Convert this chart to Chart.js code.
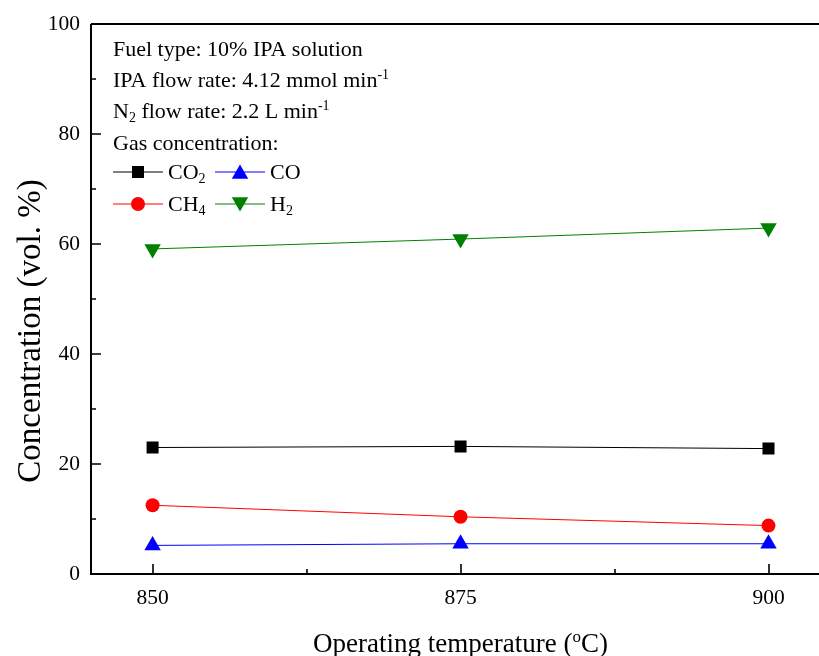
<!DOCTYPE html>
<html>
<head>
<meta charset="utf-8">
<script src="https://cdn.jsdelivr.net/npm/chart.js@4"></script>
<style>
html,body{margin:0;padding:0;background:#fff;overflow:hidden;}
#wrap{width:819px;height:656px;position:relative;overflow:hidden;}
</style>
</head>
<body>
<div id="wrap"><canvas id="c" width="829" height="656"></canvas></div>
<script>
// ---- data ----
const temperatures = [850, 875, 900];
const co2 = [23.0, 23.2, 22.8];
const co  = [5.2, 5.5, 5.5];
const ch4 = [12.5, 10.4, 8.8];
const h2  = [59.1, 60.9, 62.9];
const xTicks = [850, 875, 900];
const xMinorTicks = [862.5, 887.5];
const yTicks = [0, 20, 40, 60, 80, 100];
const yMinorTicks = [10, 30, 50, 70, 90];
const seriesNames = ['CO2', 'CO', 'CH4', 'H2'];

const FONT = '"Liberation Serif", "Times New Roman", serif';

function pts(vals){ return temperatures.map((t,i)=>({x:t, y:vals[i]})); }

const datasets = [
  {label:seriesNames[0], data:pts(co2), borderColor:'#000000', backgroundColor:'#000000', pointStyle:'rect', pointRadius:8.5, pointRotation:0},
  {label:seriesNames[1], data:pts(co),  borderColor:'#0000ff', backgroundColor:'#0000ff', pointStyle:'triangle', pointRadius:9.5, pointRotation:0},
  {label:seriesNames[2], data:pts(ch4), borderColor:'#ff0000', backgroundColor:'#ff0000', pointStyle:'circle', pointRadius:7, pointRotation:0},
  {label:seriesNames[3], data:pts(h2),  borderColor:'#008000', backgroundColor:'#008000', pointStyle:'triangle', pointRadius:9.5, pointRotation:180}
].map(d=>Object.assign(d,{borderWidth:1, pointBorderWidth:0, showLine:true, tension:0, fill:false}));

function drawRich(ctx, x, y, parts, size, align){
  const small = Math.round(size*0.64);
  let total = 0;
  parts.forEach(([t,m])=>{ ctx.font = (m?small:size)+'px '+FONT; total += ctx.measureText(t).width; });
  let cx = align==='center' ? x - total/2 : x;
  parts.forEach(([t,m])=>{
    ctx.font = (m?small:size)+'px '+FONT;
    const dy = m===1 ? -size*0.36 : (m===-1 ? size*0.2 : 0);
    ctx.fillText(t, cx, y+dy);
    cx += ctx.measureText(t).width;
  });
}

function marker(ctx, ds, x, y){
  ctx.save();
  ctx.fillStyle = ds.backgroundColor;
  ctx.strokeStyle = ds.borderColor;
  ctx.lineWidth = 0;
  const opts = {pointStyle:ds.pointStyle, radius:ds.pointRadius, rotation:ds.pointRotation, borderWidth:0};
  if (window.Chart && Chart.helpers && Chart.helpers.drawPoint) {
    Chart.helpers.drawPoint(ctx, opts, x, y);
  }
  ctx.restore();
}

const framePlugin = {
  id:'frame',
  afterDraw(chart){
    const ctx = chart.ctx;
    const xs = chart.scales.x, ys = chart.scales.y;
    const a = chart.chartArea;
    ctx.save();
    ctx.strokeStyle = '#000';
    ctx.lineWidth = 2;
    ctx.beginPath();
    ctx.moveTo(a.left, a.top); ctx.lineTo(a.left, a.bottom); ctx.lineTo(a.right, a.bottom);
    ctx.moveTo(a.left, a.top); ctx.lineTo(a.right, a.top);
    ctx.stroke();
    ctx.lineWidth = 1.6;
    ctx.beginPath();
    yTicks.forEach(v=>{ const p = Math.round(ys.getPixelForValue(v)); ctx.moveTo(a.left, p); ctx.lineTo(a.left+10, p); });
    yMinorTicks.forEach(v=>{ const p = Math.round(ys.getPixelForValue(v)); ctx.moveTo(a.left, p); ctx.lineTo(a.left+5, p); });
    xTicks.forEach(v=>{ const p = Math.round(xs.getPixelForValue(v)); ctx.moveTo(p, a.bottom); ctx.lineTo(p, a.bottom-10); });
    xMinorTicks.forEach(v=>{ const p = Math.round(xs.getPixelForValue(v)); ctx.moveTo(p, a.bottom); ctx.lineTo(p, a.bottom-5); });
    ctx.stroke();

    // axis titles
    ctx.fillStyle = '#000';
    ctx.textBaseline = 'alphabetic';
    const xMid = (xs.getPixelForValue(850) + xs.getPixelForValue(900)) / 2;
    drawRich(ctx, xMid, 652, [['Operating temperature (',0],['o',1],['C)',0]], 27, 'center');
    ctx.save();
    ctx.translate(40, 331);
    ctx.rotate(-Math.PI/2);
    drawRich(ctx, 0, 0, [['Concentration (vol. %)',0]], 33, 'center');
    ctx.restore();

    // annotation block
    const L = 113, fs = 22;
    drawRich(ctx, L, 56, [['Fuel type: 10% IPA solution',0]], fs);
    drawRich(ctx, L, 87, [['IPA flow rate: 4.12 mmol min',0],['-1',1]], fs);
    drawRich(ctx, L, 118, [['N',0],['2',-1],[' flow rate: 2.2 L min',0],['-1',1]], fs);
    drawRich(ctx, L, 150, [['Gas concentration:',0]], fs);

    const rows = [
      {y:172, items:[[0, [['CO',0],['2',-1]]], [1, [['CO',0]]]]},
      {y:204, items:[[2, [['CH',0],['4',-1]]], [3, [['H',0],['2',-1]]]]}
    ];
    rows.forEach(r=>{
      r.items.forEach(([idx, parts], k)=>{
        const ds = chart.data.datasets[idx];
        const x0 = k===0 ? 113 : 215;
        ctx.strokeStyle = ds.borderColor; ctx.lineWidth = 1;
        ctx.beginPath(); ctx.moveTo(x0, r.y); ctx.lineTo(x0+50, r.y); ctx.stroke();
        const dy = ds.pointStyle==='triangle' ? (ds.pointRotation ? -2 : 2) : 0;
        marker(ctx, ds, x0+25, r.y+dy);
        ctx.fillStyle = '#000';
        drawRich(ctx, x0+55, r.y+7, parts, fs);
      });
    });
    ctx.restore();
  }
};

new Chart(document.getElementById('c'), {
  type:'scatter',
  data:{datasets},
  options:{
    responsive:false,
    devicePixelRatio:1,
    animation:false,
    layout:{padding:{top:24, right:0, left:0, bottom:0}},
    plugins:{legend:{display:false}, tooltip:{enabled:false}, title:{display:false}},
    scales:{
      x:{
        type:'linear', min:845, max:904.14,
        afterBuildTicks(s){ s.ticks = xTicks.map(v=>({value:v})); },
        afterFit(s){ s.height = 82; s.paddingLeft = 0; s.paddingRight = 0; },
        grid:{display:false, drawTicks:false},
        border:{display:false},
        ticks:{color:'#000', padding:11, font:{family:FONT, size:21.5}, maxRotation:0, autoSkip:false}
      },
      y:{
        type:'linear', min:0, max:100,
        afterBuildTicks(s){ s.ticks = yTicks.map(v=>({value:v})); },
        afterFit(s){ s.width = 91; s.paddingTop = 0; s.paddingBottom = 0; },
        grid:{display:false, drawTicks:false},
        border:{display:false},
        ticks:{color:'#000', padding:11, font:{family:FONT, size:21.5}, autoSkip:false}
      }
    }
  },
  plugins:[framePlugin]
});
</script>
</body>
</html>
